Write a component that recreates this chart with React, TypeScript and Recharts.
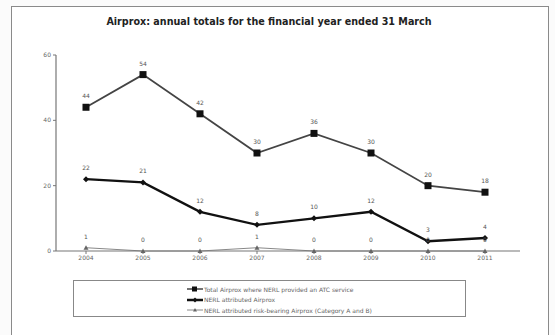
import React from "react";
import { LineChart, Line, XAxis, YAxis, Legend, LabelList } from "recharts";

const years = ["2004", "2005", "2006", "2007", "2008", "2009", "2010", "2011"];
const totalAirprox = [44, 54, 42, 30, 36, 30, 20, 18];
const nerlAttributed = [22, 21, 12, 8, 10, 12, 3, 4];
const riskBearing = [1, 0, 0, 1, 0, 0, 0, 0];
const yTicks = [0, 20, 40, 60];

const seriesNames = {
  total: "Total Airprox where NERL provided an ATC service",
  nerl: "NERL attributed Airprox",
  risk: "NERL attributed risk-bearing Airprox (Category A and B)",
};

const data = years.map((y, i) => ({
  year: y,
  total: totalAirprox[i],
  nerl: nerlAttributed[i],
  risk: riskBearing[i],
}));

const FONT = "'DejaVu Sans', Verdana, sans-serif";

const SquareDot = (p: any) => (
  <rect key={p.key} x={p.cx - 3.5} y={p.cy - 3.5} width={7} height={7} fill="#111" />
);
const DiamondDot = (p: any) => (
  <path key={p.key} d={`M${p.cx},${p.cy - 3}L${p.cx + 3},${p.cy}L${p.cx},${p.cy + 3}L${p.cx - 3},${p.cy}Z`} fill="#111" />
);
const TriDot = (p: any) => (
  <path key={p.key} d={`M${p.cx},${p.cy - 2.5}L${p.cx + 2.5},${p.cy + 2}L${p.cx - 2.5},${p.cy + 2}Z`} fill="#666" />
);

const legendRows = [
  { name: seriesNames.total, stroke: "#444", w: 1.5, marker: "square" },
  { name: seriesNames.nerl, stroke: "#111", w: 2.5, marker: "diamond" },
  { name: seriesNames.risk, stroke: "#888", w: 1, marker: "tri" },
];

function LegendBox() {
  return (
    <div
      style={{
        border: "1.5px solid #888",
        padding: "3px 0 3px 113px",
        fontFamily: FONT,
        fontSize: 6,
        color: "#666",
        lineHeight: "11px",
        boxSizing: "border-box",
        height: 37,
      }}
    >
      {legendRows.map((r) => (
        <div key={r.name} style={{ display: "flex", alignItems: "center", height: 10.5 }}>
          <svg width={16} height={8} style={{ marginRight: 1 }}>
            <line x1={0} y1={4} x2={16} y2={4} stroke={r.stroke} strokeWidth={r.w} />
            {r.marker === "square" && <rect x={5} y={1.5} width={5} height={5} fill="#111" />}
            {r.marker === "diamond" && <path d="M8,1.5L10.5,4L8,6.5L5.5,4Z" fill="#111" />}
            {r.marker === "tri" && <path d="M8,2L10,5.5L6,5.5Z" fill="#666" />}
          </svg>
          <span>{r.name}</span>
        </div>
      ))}
    </div>
  );
}

const labelStyle = { fontSize: 6, fontFamily: FONT };

export default function App() {
  return (
    <div style={{ position: "fixed", left: 0, top: 0, width: 555, height: 335, background: "#fbfbfb", overflow: "hidden" }}>
      <div
        style={{
          position: "absolute",
          left: 11,
          top: 6,
          width: 536,
          height: 340,
          border: "1.5px solid #8a8a8a",
          background: "#fff",
        }}
      />
      <div
        style={{
          position: "absolute",
          left: 0,
          top: 16,
          width: 538,
          textAlign: "center",
          fontFamily: FONT,
          fontWeight: "bold",
          fontSize: 9.6,
          color: "#222",
        }}
      >
        Airprox: annual totals for the financial year ended 31 March
      </div>
      <div style={{ position: "absolute", left: 0, top: 0 }}>
        <LineChart width={555} height={335} data={data} margin={{ top: 55, right: 35, bottom: 64, left: 36 }}>
          <XAxis
            dataKey="year"
            padding={{ left: 30, right: 35 }}
            tick={{ fontSize: 6, fill: "#666", fontFamily: FONT }}
            tickSize={3}
            axisLine={{ stroke: "#777", strokeWidth: 1.2 }}
            tickLine={{ stroke: "#777" }}
            height={20}
          />
          <YAxis
            domain={[0, 60]}
            ticks={yTicks}
            width={20}
            tick={{ fontSize: 6, fill: "#666", fontFamily: FONT }}
            tickSize={3}
            axisLine={{ stroke: "#777", strokeWidth: 1.2 }}
            tickLine={{ stroke: "#777" }}
          />
          <Legend
            layout="vertical"
            align="center"
            verticalAlign="middle"
            wrapperStyle={{ left: 73, top: 280, width: 393 }}
            content={() => <LegendBox />}
          />
          <Line
            dataKey="total"
            name={seriesNames.total}
            stroke="#444"
            strokeWidth={1.8}
            dot={SquareDot}
            activeDot={false}
            isAnimationActive={false}
          >
            <LabelList dataKey="total" position="top" offset={9} fill="#555" style={labelStyle} />
          </Line>
          <Line
            dataKey="nerl"
            name={seriesNames.nerl}
            stroke="#111"
            strokeWidth={2.4}
            dot={DiamondDot}
            activeDot={false}
            isAnimationActive={false}
          >
            <LabelList dataKey="nerl" position="top" offset={9} fill="#555" style={labelStyle} />
          </Line>
          <Line
            dataKey="risk"
            name={seriesNames.risk}
            stroke="#888"
            strokeWidth={1}
            dot={TriDot}
            activeDot={false}
            isAnimationActive={false}
          >
            <LabelList dataKey="risk" position="top" offset={9} fill="#555" style={labelStyle} />
          </Line>
        </LineChart>
      </div>
    </div>
  );
}
